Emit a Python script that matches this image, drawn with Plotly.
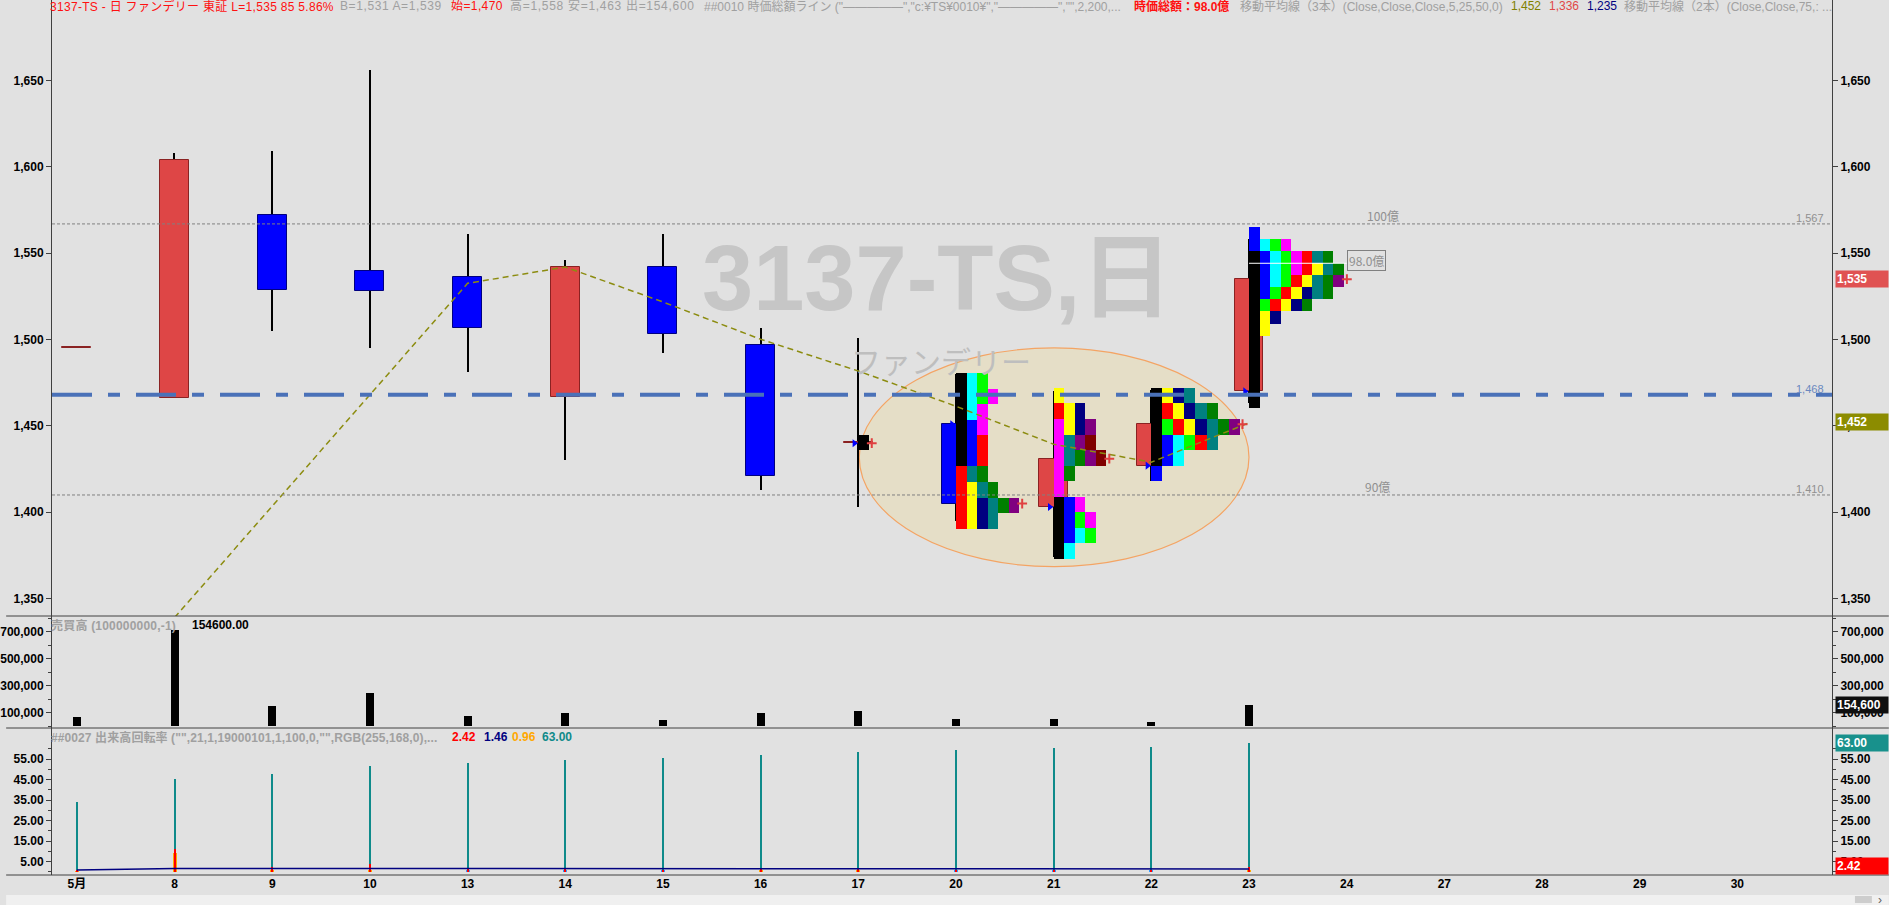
import plotly.graph_objects as go

# ── data ─────────────────────────────────────────────────────────────────────

DAYS = ["5月", "8", "9", "10", "13", "14", "15", "16", "17",
        "20", "21", "22", "23", "24", "27", "28", "29", "30"]

OPEN = [1495, 1466, 1572, 1540, 1536, 1467, 1542, 1497, 1440, 1451, 1403, 1427, 1470]
HIGH = [1495, 1608, 1609, 1656, 1561, 1546, 1561, 1507, 1501, 1480, 1470, 1471, 1558]
LOW = [1495, 1466, 1505, 1495, 1481, 1430, 1492, 1413, 1403, 1395, 1374, 1418, 1463]
CLOSE = [1495, 1604, 1529, 1528, 1507, 1542, 1503, 1421, 1440, 1405, 1431, 1451, 1535]
MA5 = [None, 1339, None, None, 1532.6, 1542.0, 1521.8, 1500.2, 1481.8,
       1461.4, 1439.4, 1429.0, 1451.8]

VOLUME = [67000, 711000, 148000, 244000, 77000, 96000, 41000, 96000, 113000,
          52000, 52000, 33000, 154600]

TURN_CUM = [34.1, 45.4, 47.8, 51.8, 53.3, 54.5, 55.7, 56.9, 58.7, 59.3, 60.5, 61.0, 63.0]
TURN_DAY = [0.6, 11.1, 2.3, 3.8, 1.2, 1.5, 0.6, 1.5, 1.8, 0.8, 0.8, 0.5, 2.42]
TURN_ORANGE = [0.4, 9.4, 0.5, 0.6, 0.5, 0.5, 0.4, 0.5, 0.6, 0.5, 0.5, 0.4, 0.96]
TURN_BLUE = [None, None, None, None, 0.9, 0.9, 1.0, None, None, 1.0, 1.0, 1.0, None]
TURN_AVG = [0.9, 1.7, 1.7, 1.7, 1.6, 1.6, 1.6, 1.6, 1.6, 1.5, 1.5, 1.5, 1.46]

# time-price profile cells per day (one letter per cell, left to right)
PROFILE_DAYS = [8, 9, 10, 11, 12]
PROFILE_TOPS = [1444.8, 1480.5, 1472.0, 1472.0, 1565.3]
PROFILE_STEPS = [9.0, 9.0, 9.0, 9.0, 7.0]
PROFILE_17 = ["K"]
PROFILE_20 = ["KCL", "KCLM", "KCM", "KBM", "KBR", "KBR", "RTG", "RYTG", "RYNTGP", "RYNT"]
PROFILE_21 = ["Y", "RYN", "MYNP", "MTPO", "MTGPO", "MG", "M", "KBM", "KBLM", "KBCL", "KC"]
PROFILE_22 = ["KYNT", "KRYNTG", "KLRYNTGP", "KBCLRT", "KBC", "B"]
PROFILE_23 = ["B", "BCLM", "KBCLMRTG", "KBCLMRYTG", "KBCLRYTGP", "KBLRYNTG", "KLRYNG",
              "KYN", "KY", "K", "K", "K", "K", "K", "K"]
PROFILES = [PROFILE_17, PROFILE_20, PROFILE_21, PROFILE_22, PROFILE_23]

LEVEL_100 = 1567
LEVEL_90 = 1410
LEVEL_BLUE = 1468
LEVEL_98 = 1544.2

# ── styling ──────────────────────────────────────────────────────────────────

BG = "#E1E1E1"
AXIS = "#404040"
GREY_TXT = "#A0A0A0"
UP = "#DE4646"
UP_EDGE = "#8A2222"
DOWN = "#0000FF"
CELL_COLORS = {
    "K": "#000000", "C": "#00FFFF", "L": "#00FF00", "M": "#FF00FF",
    "B": "#0000FF", "R": "#FF0000", "T": "#008080", "G": "#008000",
    "Y": "#FFFF00", "N": "#000080", "P": "#800080", "O": "#800000",
}
CELL_W = [0.108, 0.108, 0.108, 0.113, 0.108]
FONT = "Liberation Sans, Noto Sans CJK JP, sans-serif"
JFONT = "Noto Sans CJK JP, sans-serif"

W, H = 1889, 905
L_M, R_M, T_M, B_M = 46, 57, 0, 30
PW = W - L_M - R_M
PH = H - T_M - B_M


def px_x(px):
    return (px - L_M) / PW


def px_y(py):
    return (PH - py) / PH


idx = list(range(len(OPEN)))
fig = go.Figure()

# candles: wicks then bodies
fig.add_trace(go.Bar(
    x=idx, base=LOW, y=[h - l for h, l in zip(HIGH, LOW)], width=0.012,
    marker=dict(color="#000000", line=dict(width=0)), showlegend=False, hoverinfo="skip",
))
body_base, body_h, body_col, body_edge = [], [], [], []
for o, c in zip(OPEN, CLOSE):
    body_base.append(min(o, c))
    body_h.append(max(abs(c - o), 0.8))
    up = c >= o
    body_col.append(UP if up else DOWN)
    body_edge.append(UP_EDGE if up else "#000080")
fig.add_trace(go.Bar(
    x=idx, base=body_base, y=body_h, width=0.296,
    marker=dict(color=body_col, line=dict(color=body_edge, width=1)),
    showlegend=False, hoverinfo="skip",
))

# profile cells
cx, cb, ch, cw, cc = [], [], [], [], []
close_x, close_y, open_x, open_y = [], [], [], []
for day, top, step, rows, w in zip(PROFILE_DAYS, PROFILE_TOPS, PROFILE_STEPS, PROFILES, CELL_W):
    for r, row in enumerate(rows):
        for c, code in enumerate(row):
            cx.append(day + w * (c + 0.5))
            cb.append(top - step * (r + 1))
            ch.append(step)
            cw.append(w)
            cc.append(CELL_COLORS[code])
    r_close = min(int((top - CLOSE[day]) / step), len(rows) - 1)
    close_x.append(day + w * len(rows[r_close]) + 0.03)
    close_y.append(CLOSE[day])
    open_x.append(day - 0.04)
    open_y.append(OPEN[day])
fig.add_trace(go.Bar(
    x=cx, base=cb, y=ch, width=cw,
    marker=dict(color=cc, line=dict(width=0)), showlegend=False, hoverinfo="skip",
))

# volume
fig.add_trace(go.Bar(
    x=idx, y=VOLUME, width=0.082, yaxis="y2",
    marker=dict(color="#000000", line=dict(width=0)), showlegend=False, hoverinfo="skip",
))

# turnover
fig.add_trace(go.Bar(
    x=idx, y=TURN_CUM, width=0.022, yaxis="y3",
    marker=dict(color="#0E8A8A", line=dict(width=0)), showlegend=False, hoverinfo="skip",
))
fig.add_trace(go.Bar(
    x=idx, y=TURN_ORANGE, width=0.04, yaxis="y3",
    marker=dict(color="#FFA800", line=dict(width=0)), showlegend=False, hoverinfo="skip",
))
fig.add_trace(go.Bar(
    x=idx, y=TURN_BLUE, width=0.04, yaxis="y3",
    marker=dict(color="#3399FF", line=dict(width=0)), showlegend=False, hoverinfo="skip",
))
fig.add_trace(go.Bar(
    x=idx, y=TURN_DAY, width=0.022, yaxis="y3",
    marker=dict(color="#FF0000", line=dict(width=0)), showlegend=False, hoverinfo="skip",
))
fig.add_trace(go.Scatter(
    x=idx, y=TURN_AVG, mode="lines", yaxis="y3",
    line=dict(color="#000080", width=1.5), showlegend=False, hoverinfo="skip",
))

# moving average
fig.add_trace(go.Scatter(
    x=idx, y=MA5, mode="lines", connectgaps=True,
    line=dict(color="#8C8C10", width=1.5, dash="6px,4px"), showlegend=False, hoverinfo="skip",
))

# open / close markers
fig.add_trace(go.Scatter(
    x=open_x, y=open_y, mode="markers",
    marker=dict(symbol="triangle-right", size=7, color="#0000FF"),
    showlegend=False, hoverinfo="skip",
))
fig.add_trace(go.Scatter(
    x=close_x, y=close_y, mode="markers",
    marker=dict(symbol="cross-thin", size=7, line=dict(color="#E04040", width=2)),
    showlegend=False, hoverinfo="skip",
))

# invisible anchors so the right-hand mirror axes get drawn
for yname, yval in [("y4", CLOSE[-1]), ("y5", VOLUME[-1]), ("y6", TURN_CUM[-1])]:
    fig.add_trace(go.Scatter(
        x=[idx[-1]], y=[yval], yaxis=yname, mode="markers",
        marker=dict(size=1, opacity=0), showlegend=False, hoverinfo="skip",
    ))

# ── shapes ───────────────────────────────────────────────────────────────────

shapes = [
    dict(type="circle", xref="x", yref="y", x0=8.01, x1=12.0, y0=1368.5, y1=1495.2,
         fillcolor="#E5DEC7", line=dict(color="#F4A464", width=1.2), layer="below"),
    dict(type="line", xref="paper", yref="y", x0=0, x1=1, y0=LEVEL_100, y1=LEVEL_100,
         line=dict(color="#808080", width=1, dash="3px,2px")),
    dict(type="line", xref="paper", yref="y", x0=0, x1=1, y0=LEVEL_90, y1=LEVEL_90,
         line=dict(color="#808080", width=1, dash="3px,2px")),
    dict(type="line", xref="paper", yref="y", x0=0, x1=1, y0=LEVEL_BLUE, y1=LEVEL_BLUE,
         line=dict(color="#4A71B8", width=4, dash="40px,16px,12px,16px")),
    dict(type="line", xref="x", yref="y", x0=12.0, x1=13.0, y0=LEVEL_98, y1=LEVEL_98,
         line=dict(color="#FFFFFF", width=1)),
]
for yy in [PH - 616, PH - 728, 0]:
    shapes.append(dict(type="line", xref="paper", yref="paper",
                       x0=px_x(0), x1=px_x(W), y0=yy / PH, y1=yy / PH,
                       line=dict(color=AXIS, width=1)))
shapes.append(dict(type="rect", xref="paper", yref="paper", x0=px_x(0), x1=px_x(W),
                   y0=px_y(H), y1=px_y(895), fillcolor="#F0F0F0", line=dict(width=0)))
shapes.append(dict(type="rect", xref="paper", yref="paper", x0=px_x(1855), x1=px_x(1872),
                   y0=px_y(903), y1=px_y(896), fillcolor="#CDCDCD", line=dict(width=0)))

# ── annotations ──────────────────────────────────────────────────────────────

ann = []


def spaced(text, spacing):
    if not spacing:
        return text
    return f'<span style="letter-spacing:{spacing}px">{text}</span>'


def header(px, text, color, bold=False, spacing=0.0):
    ann.append(dict(xref="paper", yref="paper", x=px_x(px - 5), y=1, xanchor="left", yanchor="top",
                    yshift=3, showarrow=False, text=spaced(text, spacing),
                    font=dict(family=FONT, size=12, color=color, weight="bold" if bold else "normal")))


header(47, "3137-TS - 日 ファンデリー 東証 L=1,535 85 5.86%", "#FF1010", spacing=0.3)
header(338, "B=1,531 A=1,539", GREY_TXT, spacing=0.6)
header(449, "始=1,470", "#FF1010", spacing=0.4)
header(509, "高=1,558 安=1,463 出=154,600", GREY_TXT, spacing=0.7)
header(703, '##0010 時価総額ライン ("—————","c:¥TS¥0010¥","—————","",2,200,...', GREY_TXT)
header(1135, "時価総額：98.0億", "#FF1010", bold=True)
header(1241, "移動平均線（3本）(Close,Close,Close,5,25,50,0)", GREY_TXT)
header(1513, "1,452", "#808000")
header(1551, "1,336", "#E04848")
header(1589, "1,235", "#000080")
header(1626, "移動平均線（2本）(Close,Close,75,: ...", GREY_TXT)

# watermark
ann.append(dict(xref="paper", yref="paper", x=px_x(934), y=px_y(278), xanchor="center",
                yanchor="middle", showarrow=False, text="3137-TS,日",
                font=dict(family=FONT, size=92, color="#C6C6C6", weight="bold")))
ann.append(dict(xref="paper", yref="paper", x=px_x(938), y=px_y(360), xanchor="center",
                yanchor="middle", showarrow=False, text="ファンデリー",
                font=dict(family=JFONT, size=30, color="#BEBEBE")))

# level labels
for lvl, txt, col in [(LEVEL_100, "1,567", "#909090"), (LEVEL_90, "1,410", "#909090"),
                      (LEVEL_BLUE, "1,468", "#6A88C0")]:
    ann.append(dict(xref="paper", yref="y", x=1, y=lvl, xanchor="right", yanchor="bottom",
                    xshift=-6, yshift=-2, showarrow=False, text=txt,
                    font=dict(family=FONT, size=11, color=col)))
ann.append(dict(xref="x", yref="y", x=13.19, y=LEVEL_100, xanchor="left", yanchor="bottom",
                yshift=-2, showarrow=False, text="100億", font=dict(family=JFONT, size=12, color="#909090")))
ann.append(dict(xref="x", yref="y", x=13.17, y=LEVEL_90, xanchor="left", yanchor="bottom",
                yshift=-2, showarrow=False, text="90億", font=dict(family=JFONT, size=12, color="#909090")))
ann.append(dict(xref="x", yref="y", x=13.0, y=1546, xanchor="left", yanchor="middle",
                showarrow=False, text="98.0億", bordercolor="#808080", borderwidth=1, borderpad=1,
                font=dict(family=JFONT, size=12, color="#909090")))

# right side value tags
for yref, val, txt, bg in [("y", 1535, "1,535", "#E05252"), ("y", 1452, "1,452", "#8C8C00"),
                           ("y2", 154600, "154,600", "#101010"), ("y3", 63.0, "63.00", "#18918C"),
                           ("y3", 2.9, "2.42", "#FF0000")]:
    ann.append(dict(xref="paper", yref=yref, x=1, y=val, xanchor="left", yanchor="middle",
                    xshift=3, showarrow=False, text=txt, bgcolor=bg, width=50, align="left",
                    borderpad=1, font=dict(family=FONT, size=12, color="#FFFFFF", weight="bold")))

# panel titles
ann.append(dict(xref="paper", yref="paper", x=px_x(43), y=px_y(616), xanchor="left", yanchor="top",
                showarrow=False, text=spaced("売買高 (100000000,-1)", 0.2),
                font=dict(family=FONT, size=12, color=GREY_TXT, weight="bold")))
ann.append(dict(xref="paper", yref="paper", x=px_x(184), y=px_y(616), xanchor="left", yanchor="top",
                showarrow=False, text="154600.00",
                font=dict(family=FONT, size=12, color="#000000", weight="bold")))
ann.append(dict(xref="paper", yref="paper", x=px_x(43), y=px_y(728), xanchor="left", yanchor="top",
                showarrow=False,
                text=spaced('##0027 出来高回転率 ("",21,1,19000101,1,100,0,"",RGB(255,168,0),...', 0.1),
                font=dict(family=FONT, size=12, color=GREY_TXT, weight="bold")))
for px, txt, col in [(445, "2.42", "#FF0000"), (477, "1.46", "#000080"),
                     (506, "0.96", "#FFA800"), (536, "63.00", "#0E8A8A")]:
    ann.append(dict(xref="paper", yref="paper", x=px_x(px), y=px_y(728), xanchor="left",
                    yanchor="top", showarrow=False, text=txt,
                    font=dict(family=FONT, size=12, color=col, weight="bold")))
ann.append(dict(xref="paper", yref="paper", x=px_x(1880), y=px_y(900), xanchor="center",
                yanchor="middle", showarrow=False,
                text="›", font=dict(family=FONT, size=12, color="#606060")))

# ── axes ─────────────────────────────────────────────────────────────────────

tickfont = dict(family=FONT, size=12, color="#000000", weight="bold")
price_ticks = [1350, 1400, 1450, 1500, 1550, 1600, 1650]
vol_ticks = [100000, 300000, 500000, 700000]
turn_ticks = [5, 15, 25, 35, 45, 55]
d_price = 1 - 616 / PH
d_vol = 1 - 728 / PH

yax = dict(showgrid=False, zeroline=False, showline=True, linecolor=AXIS, linewidth=1,
           ticks="outside", ticklen=5, tickcolor=AXIS, tickfont=tickfont, anchor="x",
           tickformat=",")
price_ax = dict(yax, domain=[d_price, 1], range=[1339.9, 1696.7], tickvals=price_ticks)
vol_ax = dict(yax, domain=[d_vol, d_price], range=[-14800, 814800], tickvals=vol_ticks,
              minor=dict(tickvals=[0, 200000, 400000, 600000, 800000], ticklen=3,
                         ticks="outside", tickcolor=AXIS))
turn_ax = dict(yax, domain=[0, d_vol], range=[-1.5, 70.2], tickvals=turn_ticks, tickformat=".2f",
               minor=dict(tickvals=[0, 10, 20, 30, 40, 50, 60], ticklen=3,
                          ticks="outside", tickcolor=AXIS))

fig.update_layout(
    width=W, height=H,
    margin=dict(l=L_M, r=R_M, t=T_M, b=B_M),
    paper_bgcolor=BG, plot_bgcolor=BG,
    barmode="overlay", bargap=0,
    showlegend=False,
    xaxis=dict(domain=[0, 1], anchor="y3", range=[-0.255, 17.969],
               tickmode="array", tickvals=list(range(len(DAYS))), ticktext=DAYS,
               showgrid=False, zeroline=False, showline=False, ticks="",
               tickfont=tickfont),
    yaxis=price_ax,
    yaxis2=vol_ax,
    yaxis3=turn_ax,
    yaxis4=dict(price_ax, overlaying="y", side="right"),
    yaxis5=dict(vol_ax, overlaying="y2", side="right"),
    yaxis6=dict(turn_ax, overlaying="y3", side="right"),
    shapes=shapes,
    annotations=ann,
)

# the page body keeps a default margin; drop it so the figure sits at the window corner
fig.write_html("out.html", config={"displayModeBar": False},
               post_script="document.body.style.margin='0px';")
